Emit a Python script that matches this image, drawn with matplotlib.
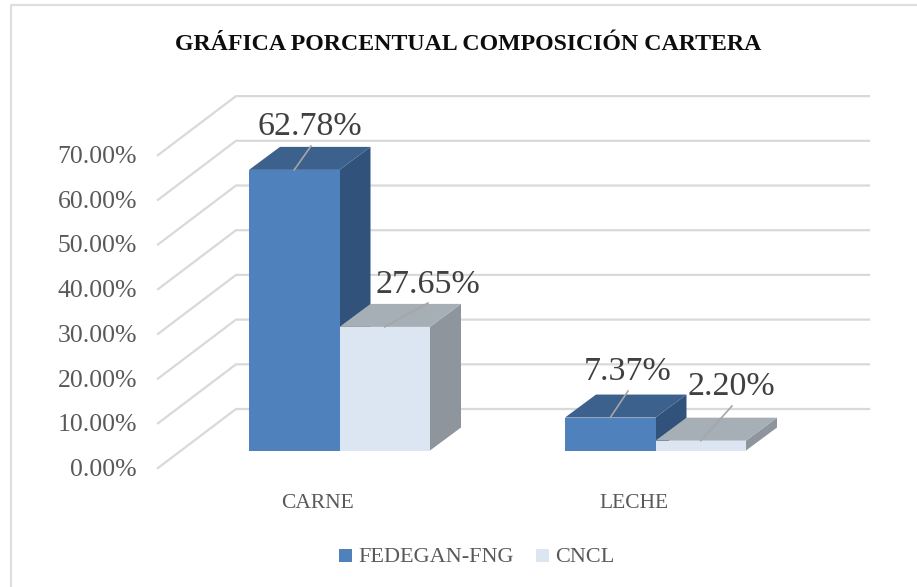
"""
3D-look clustered bars drawn on a flat axes in pixel units.
"""
import matplotlib
matplotlib.use("Agg")
import matplotlib.pyplot as plt
from matplotlib.patches import Polygon, Rectangle

categories = ["CARNE", "LECHE"]
series_names = ["FEDEGAN-FNG", "CNCL"]
fedegan = [62.78, 7.37]
cncl = [27.65, 2.20]
ticks = [0, 10, 20, 30, 40, 50, 60, 70]
tick_labels = ["0.00%", "10.00%", "20.00%", "30.00%", "40.00%", "50.00%", "60.00%", "70.00%"]

plt.rcParams["font.family"] = ["Liberation Serif", "DejaVu Serif"]

PX_PER_UNIT = 4.47
BAR_BASE = 450.5
FRONT_ZERO = 468
BACK_DX, BACK_DY = 78, -59
LEFT, BACK_LEFT, RIGHT = 158, 236, 869
BAR_W = 90.5
DX, DY = 31, -23
GROUP_X = [249, 565]

COLORS = {
    "FEDEGAN-FNG": ("#4f81bd", "#3c618c", "#31527a"),
    "CNCL": ("#dce6f2", "#a6aeb6", "#8e959d"),
}


def draw_bar(ax, x, value, name):
    front, top, side = COLORS[name]
    y_top = BAR_BASE - value * PX_PER_UNIT
    ax.add_patch(Polygon([(x + BAR_W, BAR_BASE), (x + BAR_W + DX, BAR_BASE + DY),
                          (x + BAR_W + DX, y_top + DY), (x + BAR_W, y_top)],
                         fc=side, ec="none", zorder=3))
    ax.add_patch(Polygon([(x, y_top), (x + DX, y_top + DY), (x + BAR_W + DX, y_top + DY),
                          (x + BAR_W, y_top)], fc=top, ec="none", zorder=3))
    ax.add_patch(Rectangle((x, y_top), BAR_W, value * PX_PER_UNIT, fc=front, ec="none", zorder=4))


fig = plt.figure(figsize=(9.17, 5.87), dpi=100)
ax = fig.add_axes([0, 0, 1, 1])
ax.set_xlim(0, 917)
ax.set_ylim(587, 0)
ax.axis("off")

# chart frame: only top and left edges fall inside the image
ax.plot([11, 11, 917], [587, 5, 5], color="#dedede", lw=1.6, zorder=0)

# back wall and side wall gridlines
for t, label in zip(ticks, tick_labels):
    y = FRONT_ZERO - t * PX_PER_UNIT
    ax.text(137, y + 2, label, ha="right", va="center", fontsize=18.5, color="#595959")
    ax.plot([LEFT, BACK_LEFT, RIGHT], [y, y + BACK_DY, y + BACK_DY], color="#d9d9d9", lw=1.6, zorder=1)

# bars
for gx, v1, v2 in zip(GROUP_X, fedegan, cncl):
    draw_bar(ax, gx, v1, series_names[0])
    draw_bar(ax, gx + BAR_W, v2, series_names[1])

# data labels with leader lines
label_pos = [(310, 127), (428, 285), (628, 372), (731, 387)]
leader_ends = [(311, 146), (428, 303), (628, 391), (732, 406)]
bars = [(GROUP_X[0], fedegan[0]), (GROUP_X[0] + BAR_W, cncl[0]),
        (GROUP_X[1], fedegan[1]), (GROUP_X[1] + BAR_W, cncl[1])]
for (bx, v), (lx, ly), (ex, ey) in zip(bars, label_pos, leader_ends):
    ax.plot([bx + BAR_W / 2, ex], [BAR_BASE - v * PX_PER_UNIT, ey], color="#a6a6a6", lw=1.2, zorder=5)
    ax.text(lx, ly, f"{v:.2f}%", ha="center", va="center", fontsize=24.5, color="#404040", zorder=6)

# category labels
for gx, cat in zip(GROUP_X, categories):
    ax.text(gx + 69, 503, cat, ha="center", va="center", fontsize=15.5, color="#595959")

ax.text(468, 45, "GRÁFICA PORCENTUAL COMPOSICIÓN CARTERA", ha="center", va="center",
        fontsize=17.2, fontweight="bold", color="#0d0d0d")

# legend
ax.add_patch(Rectangle((339, 549), 13, 13, fc=COLORS["FEDEGAN-FNG"][0], ec="none"))
ax.text(358, 557, series_names[0], ha="left", va="center", fontsize=16, color="#595959")
ax.add_patch(Rectangle((536, 549), 13, 13, fc=COLORS["CNCL"][0], ec="none"))
ax.text(555, 557, series_names[1], ha="left", va="center", fontsize=16, color="#595959")

fig.savefig("out.png", dpi=100)
